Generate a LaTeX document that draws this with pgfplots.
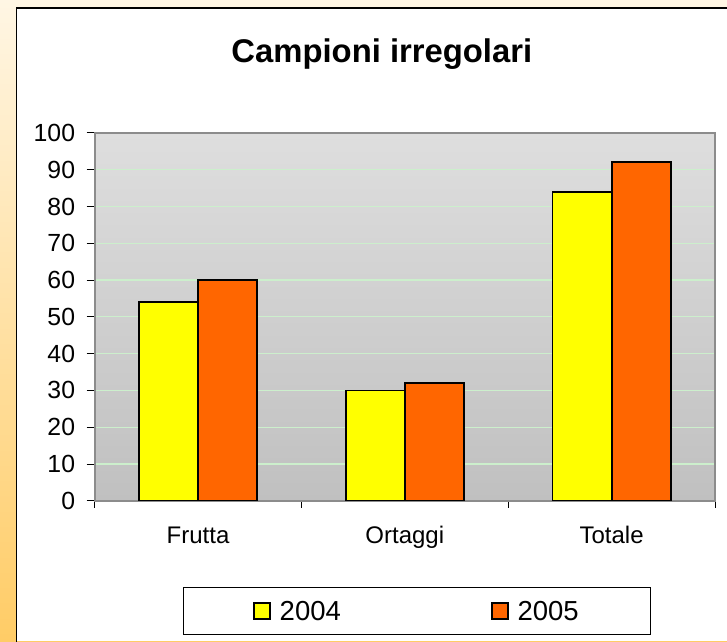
\documentclass[border=0pt]{standalone}
\usepackage{pgfplots}
\pgfplotsset{compat=1.18}
\usepackage{fontspec}
\setmainfont{Liberation Sans}

\definecolor{bgtop}{HTML}{FFF6E4}
\definecolor{bgbot}{HTML}{FFCC66}
\definecolor{plottop}{HTML}{DEDEDE}
\definecolor{plotbot}{HTML}{C0C0C0}
\definecolor{gridgreen}{HTML}{CCEFCC}
\definecolor{frame}{HTML}{8C8C8C}
\definecolor{c2004}{HTML}{FFFF00}
\definecolor{c2005}{HTML}{FF6600}

\begin{document}
\begin{tikzpicture}[x=1pt,y=1pt]
% slide background and chart area
\useasboundingbox (0,0) rectangle (727,641);
\shade[top color=bgtop, bottom color=bgbot] (0,0) rectangle (727,641);
\fill[white] (16.5,0) rectangle (727,633);
\draw[black, line width=1.5pt] (16.5,-2) -- (16.5,633) -- (729,633);

\begin{axis}[
    at={(94.6pt,140.2pt)},
    anchor=south west,
    scale only axis,
    width=620.4pt,
    height=367.9pt,
    ybar=0pt,
    bar width=0.286,
    xmin=0.5, xmax=3.5,
    ymin=0, ymax=100,
    xtick={1,2,3},
    xticklabels={Frutta, Ortaggi, Totale},
    minor xtick={0.5,1.5,2.5,3.5},
    ytick={0,10,...,100},
    x tick style={draw=none},
    minor x tick style={draw=black, line width=0.9pt},
    y tick style={draw=black, line width=0.9pt},
    minor tick length=7pt,
    major tick length=8pt,
    tick align=outside,
    tick pos=left,
    ymajorgrids=true,
    major grid style={draw=gridgreen, line width=1.2pt},
    axis line style={draw=frame, line width=1.8pt},
    axis background/.style={shade, top color=plottop, bottom color=plotbot},
    /pgf/number format/assume math mode=true,
    yticklabel style={font=\fontsize{24.8}{24.8}\selectfont, xshift=-8pt},
    xticklabel style={font=\fontsize{24}{24}\selectfont, anchor=base, yshift=-35pt},
    title={\bfseries Campioni irregolari},
    title style={font=\fontsize{32.8}{32.8}\selectfont, at={(0.463,1.175)}, anchor=base},
    legend columns=2,
    legend style={
        at={(0.5195,-0.3003)}, anchor=center,
        draw=black, line width=1pt, fill=white,
        font=\fontsize{27.5}{27.5}\selectfont,
        inner xsep=70pt, inner ysep=11pt,
        /tikz/every even column/.append style={column sep=148pt},
    },
    legend image code/.code={
        \draw[#1, draw=black, line width=1.6pt] (0pt,-8pt) rectangle (16pt,8pt);
        \path (23pt,0pt);
    },
]
\addplot[fill=c2004, draw=black, line width=1.8pt] coordinates {(1,54) (2,30) (3,84)};
\addlegendentry{2004}
\addplot[fill=c2005, draw=black, line width=1.8pt] coordinates {(1,60) (2,32) (3,92)};
\addlegendentry{2005}
\end{axis}
\end{tikzpicture}
\end{document}
